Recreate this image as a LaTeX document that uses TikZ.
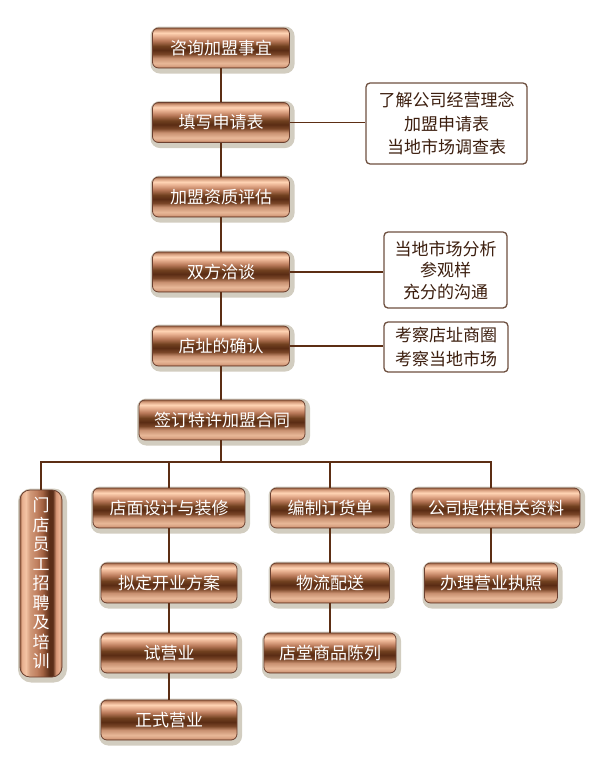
\documentclass[tikz,border=0pt]{standalone}
\usepackage{fontspec}
\setmainfont{Noto Sans CJK SC}
\usetikzlibrary{shadows}

\definecolor{linkbrown}{HTML}{5C2E14}
\definecolor{edgebrown}{HTML}{6B4030}
\definecolor{sideedge}{HTML}{6E5040}
\definecolor{sidetext}{HTML}{3C1E0E}
\definecolor{halo}{HTML}{D2CDC0}

% copper look of the step boxes
\pgfdeclareverticalshading{copper}{100bp}{color(0bp)=(rgb,255:red,154;green,96;blue,64);
  color(25bp)=(rgb,255:red,154;green,96;blue,64);
  color(27.5bp)=(rgb,255:red,216;green,160;blue,128);
  color(31bp)=(rgb,255:red,232;green,184;blue,152);
  color(37.5bp)=(rgb,255:red,200;green,144;blue,112);
  color(42.5bp)=(rgb,255:red,122;green,70;blue,40);
  color(47.5bp)=(rgb,255:red,90;green,44;blue,20);
  color(52.5bp)=(rgb,255:red,112;green,64;blue,31);
  color(59bp)=(rgb,255:red,184;green,120;blue,88);
  color(65bp)=(rgb,255:red,232;green,176;blue,144);
  color(69bp)=(rgb,255:red,255;green,212;blue,180);
  color(72.5bp)=(rgb,255:red,216;green,160;blue,128);
  color(75bp)=(rgb,255:red,160;green,104;blue,72);
  color(100bp)=(rgb,255:red,160;green,104;blue,72)}
\pgfdeclarehorizontalshading{coppervert}{100bp}{color(0bp)=(rgb,255:red,160;green,104;blue,72);
  color(25bp)=(rgb,255:red,160;green,104;blue,72);
  color(27.5bp)=(rgb,255:red,232;green,176;blue,144);
  color(32bp)=(rgb,255:red,244;green,196;blue,164);
  color(37bp)=(rgb,255:red,208;green,152;blue,120);
  color(45bp)=(rgb,255:red,192;green,128;blue,96);
  color(52bp)=(rgb,255:red,160;green,96;blue,64);
  color(60bp)=(rgb,255:red,90;green,46;blue,24);
  color(64bp)=(rgb,255:red,90;green,46;blue,24);
  color(68bp)=(rgb,255:red,216;green,152;blue,120);
  color(72bp)=(rgb,255:red,232;green,176;blue,144);
  color(75bp)=(rgb,255:red,160;green,104;blue,72);
  color(100bp)=(rgb,255:red,160;green,104;blue,72)}

\begin{document}
\begin{tikzpicture}[x=1pt, y=-1pt,
    stepbox/.style={draw=edgebrown, line width=0.8pt, shading=copper, rounded corners=6pt,
      minimum height=40pt, inner sep=0pt, text=white, font=\fontsize{17}{19.5}\selectfont,
      general shadow={draw=halo, fill=halo, line width=7pt, shadow xshift=1.5pt, shadow yshift=-2pt}},
    stepvert/.style={stepbox, shading=coppervert, rounded corners=10pt, align=center},
    sidebox/.style={draw=sideedge, line width=1.3pt, fill=white, rounded corners=4pt,
      inner sep=0pt, align=center, text=sidetext, font=\fontsize{17}{23.5}\selectfont},
    link/.style={draw=linkbrown, line width=1.5pt}]
    \useasboundingbox (0,0) rectangle (610,766);

    % Main steps
    \node[stepbox, minimum width=137pt] (ask) at (221,48) {咨询加盟事宜};
    \node[stepbox, minimum width=137pt] (apply) at (221,122.5) {填写申请表};
    \node[stepbox, minimum width=137pt] (assess) at (221,197) {加盟资质评估};
    \node[stepbox, minimum width=137pt] (talk) at (221,272) {双方洽谈};
    \node[stepbox, minimum width=137pt] (site) at (221,346) {店址的确认};
    \node[stepbox, minimum width=166pt] (sign) at (222,420) {签订特许加盟合同};

    % Notes beside the steps
    \node[sidebox, minimum width=161pt, minimum height=81pt] (noteapply) at (446.5,123.5) {了解公司经营理念\\加盟申请表\\当地市场调查表};
    \node[sidebox, minimum width=123pt, minimum height=76pt, font=\fontsize{17}{21.5}\selectfont] (notetalk) at (445.5,270) {当地市场分析\\参观样\\充分的沟通};
    \node[sidebox, minimum width=124pt, minimum height=50pt] (notesite) at (446,347) {考察店址商圈\\考察当地市场};

    % Branches after signing
    \node[stepvert, minimum width=42pt, minimum height=187pt] (staff) at (41,583.5) {门\\店\\员\\工\\招\\聘\\及\\培\\训};
    \node[stepbox, minimum width=152pt] (design) at (169,508) {店面设计与装修};
    \node[stepbox, minimum width=136pt] (plan) at (169,583) {拟定开业方案};
    \node[stepbox, minimum width=136pt] (trial) at (169,653) {试营业};
    \node[stepbox, minimum width=136pt] (open) at (169,720) {正式营业};
    \node[stepbox, minimum width=119pt] (order) at (330,508) {编制订货单};
    \node[stepbox, minimum width=119pt] (logistics) at (330,583) {物流配送};
    \node[stepbox, minimum width=132pt] (display) at (330,653) {店堂商品陈列};
    \node[stepbox, minimum width=168pt] (docs) at (496,508) {公司提供相关资料};
    \node[stepbox, minimum width=133pt] (licence) at (491,583) {办理营业执照};

    % Connectors
    \coordinate (bus) at (221,462);
    \draw[link] (ask) -- (apply);
    \draw[link] (apply) -- (assess);
    \draw[link] (assess) -- (talk);
    \draw[link] (talk) -- (site);
    \draw[link] (site.south) -- (site.south |- sign.north);
    \draw[link] (apply.east) -- (apply.east -| noteapply.west);
    \draw[link] (talk.east) -- (talk.east -| notetalk.west);
    \draw[link] (site.east) -- (site.east -| notesite.west);
    \draw[link] (site.south |- sign.south) -- (bus);
    \draw[link] (staff.north) |- (bus -| licence.north) -- (licence.north |- docs.north);
    \draw[link] (bus -| design.north) -- (design.north);
    \draw[link] (bus -| order.north) -- (order.north);
    \draw[link] (design) -- (plan);
    \draw[link] (plan) -- (trial);
    \draw[link] (trial) -- (open);
    \draw[link] (order) -- (logistics);
    \draw[link] (logistics) -- (display);
    \draw[link] (licence.north |- docs.south) -- (licence.north);
\end{tikzpicture}
\end{document}
